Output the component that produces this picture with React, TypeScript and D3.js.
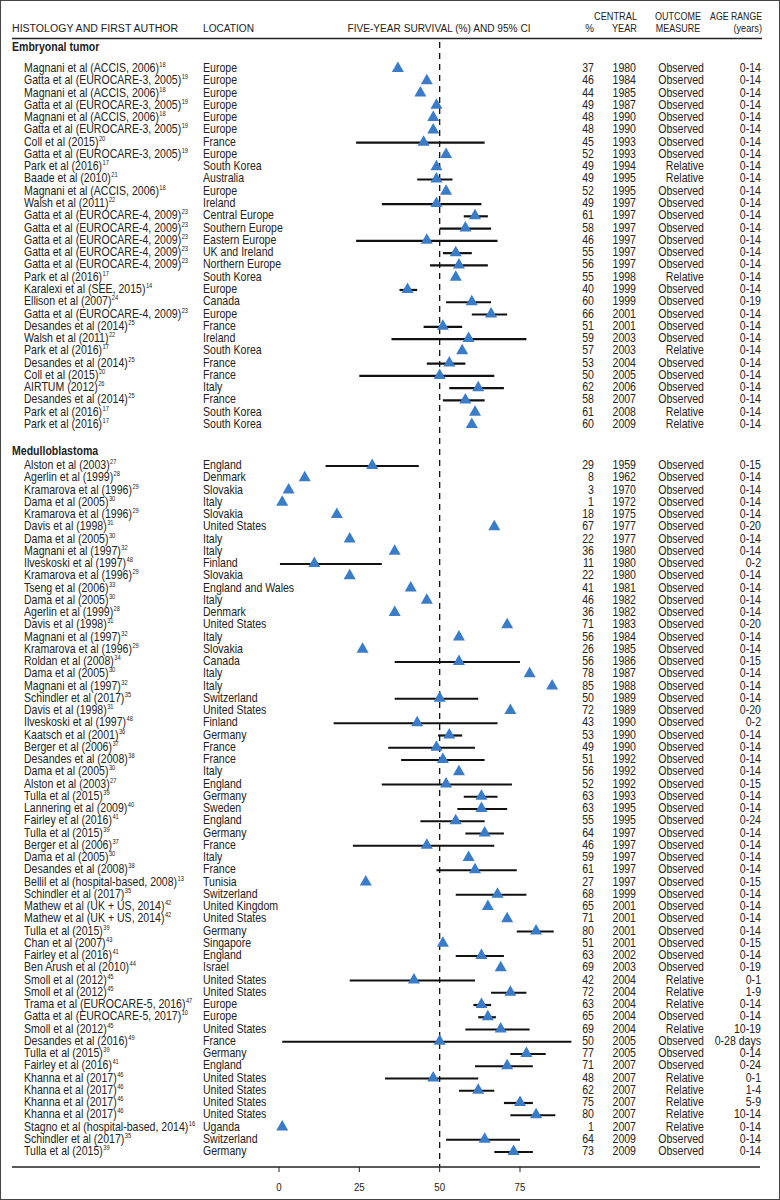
import React from "react";
import * as d3 from "d3";

const axisTicks = [0, 25, 50, 75];

const embAuthors = [
  "Magnani et al (ACCIS, 2006)", "Gatta et al (EUROCARE-3, 2005)", "Magnani et al (ACCIS, 2006)", "Gatta et al (EUROCARE-3, 2005)",
  "Magnani et al (ACCIS, 2006)", "Gatta et al (EUROCARE-3, 2005)", "Coll et al (2015)", "Gatta et al (EUROCARE-3, 2005)",
  "Park et al (2016)", "Baade et al (2010)", "Magnani et al (ACCIS, 2006)", "Walsh et al (2011)",
  "Gatta et al (EUROCARE-4, 2009)", "Gatta et al (EUROCARE-4, 2009)", "Gatta et al (EUROCARE-4, 2009)", "Gatta et al (EUROCARE-4, 2009)",
  "Gatta et al (EUROCARE-4, 2009)", "Park et al (2016)", "Karalexi et al (SEE, 2015)", "Ellison et al (2007)",
  "Gatta et al (EUROCARE-4, 2009)", "Desandes et al (2014)", "Walsh et al (2011)", "Park et al (2016)",
  "Desandes et al (2014)", "Coll et al (2015)", "AIRTUM (2012)", "Desandes et al (2014)", "Park et al (2016)", "Park et al (2016)",
];
const embRefs = [18, 19, 18, 19, 18, 19, 20, 19, 17, 21, 18, 22, 23, 23, 23, 23, 23, 17, 14, 24, 23, 25, 22, 17, 25, 20, 26, 25, 17, 17];
const embLocations = [
  "Europe", "Europe", "Europe", "Europe", "Europe", "Europe", "France", "Europe", "South Korea", "Australia",
  "Europe", "Ireland", "Central Europe", "Southern Europe", "Eastern Europe", "UK and Ireland", "Northern Europe", "South Korea", "Europe", "Canada",
  "Europe", "France", "Ireland", "South Korea", "France", "France", "Italy", "France", "South Korea", "South Korea",
];
const embSurvival = [37, 46, 44, 49, 48, 48, 45, 52, 49, 49, 52, 49, 61, 58, 46, 55, 56, 55, 40, 60, 66, 51, 59, 57, 53, 50, 62, 58, 61, 60];
const embLower = [null, null, null, null, null, null, 24, null, null, 43, null, 32, 57.5, 50, 24, 51, 47, null, 37.5, 52, 60, 45, 35, null, 46, 25, 53, 51, null, null];
const embUpper = [null, null, null, null, null, null, 64, null, null, 54, null, 63, 65, 66, 68, 60, 65, null, 43, 66, 71, 57, 77, null, 58, 67, 70, 64, null, null];
const embYears = [1980, 1984, 1985, 1987, 1990, 1990, 1993, 1993, 1994, 1995, 1995, 1997, 1997, 1997, 1997, 1997, 1997, 1998, 1999, 1999, 2001, 2001, 2003, 2003, 2004, 2005, 2006, 2007, 2008, 2009];
const embMeasures = [
  "Observed", "Observed", "Observed", "Observed", "Observed", "Observed", "Observed", "Observed", "Relative", "Relative",
  "Observed", "Observed", "Observed", "Observed", "Observed", "Observed", "Observed", "Relative", "Observed", "Observed",
  "Observed", "Observed", "Observed", "Relative", "Observed", "Observed", "Observed", "Observed", "Relative", "Relative",
];
const embAges = [
  "0-14", "0-14", "0-14", "0-14", "0-14", "0-14", "0-14", "0-14", "0-14", "0-14",
  "0-14", "0-14", "0-14", "0-14", "0-14", "0-14", "0-14", "0-14", "0-14", "0-19",
  "0-14", "0-14", "0-14", "0-14", "0-14", "0-14", "0-14", "0-14", "0-14", "0-14",
];

const medAuthors = [
  "Alston et al (2003)", "Agerlin et al (1999)", "Kramarova et al (1996)", "Dama et al (2005)", "Kramarova et al (1996)",
  "Davis et al (1998)", "Dama et al (2005)", "Magnani et al (1997)", "Ilveskoski et al (1997)", "Kramarova et al (1996)",
  "Tseng et al (2006)", "Dama et al (2005)", "Agerlin et al (1999)", "Davis et al (1998)", "Magnani et al (1997)",
  "Kramarova et al (1996)", "Roldan et al (2008)", "Dama et al (2005)", "Magnani et al (1997)", "Schindler et al (2017)",
  "Davis et al (1998)", "Ilveskoski et al (1997)", "Kaatsch et al (2001)", "Berger et al (2006)", "Desandes et al (2008)",
  "Dama et al (2005)", "Alston et al (2003)", "Tulla et al (2015)", "Lannering et al (2009)", "Fairley et al (2016)",
  "Tulla et al (2015)", "Berger et al (2006)", "Dama et al (2005)", "Desandes et al (2008)", "Bellil et al (hospital-based, 2008)",
  "Schindler et al (2017)", "Mathew et al (UK + US, 2014)", "Mathew et al (UK + US, 2014)", "Tulla et al (2015)", "Chan et al (2007)",
  "Fairley et al (2016)", "Ben Arush et al (2010)", "Smoll et al (2012)", "Smoll et al (2012)", "Trama et al (EUROCARE-5, 2016)",
  "Gatta et al (EUROCARE-5, 2017)", "Smoll et al (2012)", "Desandes et al (2016)", "Tulla et al (2015)", "Fairley et al (2016)",
  "Khanna et al (2017)", "Khanna et al (2017)", "Khanna et al (2017)", "Khanna et al (2017)", "Stagno et al (hospital-based, 2014)",
  "Schindler et al (2017)", "Tulla et al (2015)",
];
const medRefs = [27, 28, 29, 30, 29, 31, 30, 32, 48, 29, 33, 30, 28, 31, 32, 29, 34, 30, 32, 35, 31, 48, 36, 37, 38, 30, 27, 39, 40, 41,
  39, 37, 30, 38, 13, 35, 42, 42, 39, 43, 41, 44, 45, 45, 47, 10, 45, 49, 39, 41, 46, 46, 46, 46, 16, 35, 39];
const medLocations = [
  "England", "Denmark", "Slovakia", "Italy", "Slovakia", "United States", "Italy", "Italy", "Finland", "Slovakia",
  "England and Wales", "Italy", "Denmark", "United States", "Italy", "Slovakia", "Canada", "Italy", "Italy", "Switzerland",
  "United States", "Finland", "Germany", "France", "France", "Italy", "England", "Germany", "Sweden", "England",
  "Germany", "France", "Italy", "France", "Tunisia", "Switzerland", "United Kingdom", "United States", "Germany", "Singapore",
  "England", "Israel", "United States", "United States", "Europe", "Europe", "United States", "France", "Germany", "England",
  "United States", "United States", "United States", "United States", "Uganda", "Switzerland", "Germany",
];
const medSurvival = [29, 8, 3, 1, 18, 67, 22, 36, 11, 22, 41, 46, 36, 71, 56, 26, 56, 78, 85, 50, 72, 43, 53, 49, 51, 56, 52, 63, 63, 55,
  64, 46, 59, 61, 27, 68, 65, 71, 80, 51, 63, 69, 42, 72, 63, 65, 69, 50, 77, 71, 48, 62, 75, 80, 1, 64, 73];
const medLower = [14.5, null, null, null, null, null, null, null, 0.3, null, null, null, null, null, null, null, 36, null, null, 36,
  null, 17, 49.5, 34, 38, null, 32, 57.5, 55.5, 44, 58, 23, null, 49, null, 55, null, null, 74, null,
  55, null, 22, 66, 60.5, 62, 58, 1, 72, 61, 33, 56, 70, 72, null, 52, 67];
const medUpper = [43.5, null, null, null, null, null, null, null, 32, null, null, null, null, null, null, null, 75, null, null, 62,
  null, 68, 57, 61, 64, null, 72.5, 68, 71, 64, 70, 67, null, 74, null, 77, null, null, 85.5, null,
  70, null, 61, 77, 66, 67.5, 78, 91, 83, 79, 62, 67, 79, 86, null, 75, 79];
const medYears = [1959, 1962, 1970, 1972, 1975, 1977, 1977, 1980, 1980, 1980, 1981, 1982, 1982, 1983, 1984, 1985, 1986, 1987, 1988, 1989,
  1989, 1990, 1990, 1990, 1992, 1992, 1992, 1993, 1995, 1995, 1997, 1997, 1997, 1997, 1997, 1999, 2001, 2001, 2001, 2001,
  2002, 2003, 2004, 2004, 2004, 2004, 2004, 2005, 2005, 2007, 2007, 2007, 2007, 2007, 2007, 2009, 2009];
const medMeasures = medAuthors.map((_, i) =>
  [42, 43, 44, 46, 50, 51, 52, 53, 54].includes(i) ? "Relative" : "Observed");
const medAges = [
  "0-15", "0-14", "0-14", "0-14", "0-14", "0-20", "0-14", "0-14", "0-2", "0-14",
  "0-14", "0-14", "0-14", "0-20", "0-14", "0-14", "0-15", "0-14", "0-14", "0-14",
  "0-20", "0-2", "0-14", "0-14", "0-14", "0-14", "0-15", "0-14", "0-14", "0-24",
  "0-14", "0-14", "0-14", "0-14", "0-15", "0-14", "0-14", "0-14", "0-14", "0-15",
  "0-14", "0-19", "0-1", "1-9", "0-14", "0-14", "10-19", "0-28 days", "0-14", "0-24",
  "0-1", "1-4", "5-9", "10-14", "0-14", "0-14", "0-14",
];

const groupTitles = ["Embryonal tumor", "Medulloblastoma"];

const FONT = "'Liberation Sans', Arial, sans-serif";
const BLUE = "#3A7CC8";

type Row = {
  author: string; ref: number; loc: string; s: number; lo: number | null; hi: number | null;
  year: number; measure: string; age: string; y: number;
};

function buildRows(
  authors: string[], refs: number[], locs: string[], s: number[], lo: (number | null)[], hi: (number | null)[],
  years: number[], measures: string[], ages: string[], y0: number, y1: number
): Row[] {
  const yScale = d3.scalePoint<number>().domain(d3.range(authors.length)).range([y0, y1]);
  return authors.map((a, i) => ({
    author: a, ref: refs[i], loc: locs[i], s: s[i], lo: lo[i], hi: hi[i],
    year: years[i], measure: measures[i], age: ages[i], y: yScale(i) as number,
  }));
}

function T(props: { x: number; y: number; anchor?: string; size?: number; sx?: number; bold?: boolean; children: React.ReactNode }) {
  const { x, y, anchor = "start", size = 12, sx = 0.88, bold = false, children } = props;
  return (
    <text transform={`translate(${x},${y}) scale(${sx},1)`} textAnchor={anchor} fontSize={size}
      fontWeight={bold ? "bold" : "normal"} fill="#222">
      {children}
    </text>
  );
}

export default function App() {
  const W = 780, H = 1200;
  const x = d3.scaleLinear().domain([0, 75]).range([279, 520]);
  const embRows = buildRows(embAuthors, embRefs, embLocations, embSurvival, embLower, embUpper, embYears, embMeasures, embAges, 68, 424);
  const medRows = buildRows(medAuthors, medRefs, medLocations, medSurvival, medLower, medUpper, medYears, medMeasures, medAges, 465, 1151);
  const rows = [...embRows, ...medRows];
  const axisY = 1167;
  const tri = (cx: number, cy: number) => `M${cx - 6},${cy + 4}L${cx + 6},${cy + 4}L${cx},${cy - 6.5}Z`;
  const hs = 11.5;

  return (
    <svg width={W} height={H} style={{ position: "absolute", left: 0, top: 0, background: "#fff" }} fontFamily={FONT}>
      <rect x={0.5} y={0.5} width={W - 1} height={H - 1} fill="#fff" stroke="#444" strokeWidth={1} />
      {/* header */}
      <T x={12} y={32} size={hs} sx={0.92}>HISTOLOGY AND FIRST AUTHOR</T>
      <T x={203} y={32} size={hs} sx={0.88}>LOCATION</T>
      <T x={439} y={32} size={hs} sx={0.88} anchor="middle">FIVE-YEAR  SURVIVAL (%) AND 95% CI</T>
      <T x={594} y={32} size={hs} sx={0.85} anchor="end">%</T>
      <T x={637} y={20} size={hs} sx={0.8} anchor="end">CENTRAL</T>
      <T x={637} y={32} size={hs} sx={0.8} anchor="end">YEAR</T>
      <T x={678} y={20} size={hs} sx={0.78} anchor="middle">OUTCOME</T>
      <T x={678} y={32} size={hs} sx={0.78} anchor="middle">MEASURE</T>
      <T x={762} y={20} size={hs} sx={0.76} anchor="end">AGE RANGE</T>
      <T x={762} y={32} size={hs} sx={0.8} anchor="end">(years)</T>
      <line x1={12} x2={762} y1={38.5} y2={38.5} stroke="#222" strokeWidth={1.5} />
      {/* group titles */}
      <T x={12} y={51} bold>{groupTitles[0]}</T>
      <T x={12} y={455} bold>{groupTitles[1]}</T>
      {/* reference line */}
      <line x1={x(50)} x2={x(50)} y1={42} y2={axisY} stroke="#111" strokeWidth={1.3} strokeDasharray="6,5" />
      {/* rows */}
      {rows.map((r, i) => (
        <g key={i}>
          <T x={24} y={r.y + 4}>
            {r.author}
            <tspan fontSize={6.5} dy={-5} dx={0.5}>{r.ref}</tspan>
          </T>
          <T x={203} y={r.y + 4}>{r.loc}</T>
          <T x={594} y={r.y + 4} anchor="end">{r.s}</T>
          <T x={636} y={r.y + 4} anchor="end">{r.year}</T>
          <T x={704} y={r.y + 4} anchor="end">{r.measure}</T>
          <T x={761} y={r.y + 4} anchor="end">{r.age}</T>
          {r.lo !== null && r.hi !== null && (
            <line x1={x(r.lo)} x2={x(r.hi)} y1={r.y + 1} y2={r.y + 1} stroke="#111" strokeWidth={2.2} />
          )}
          <path d={tri(x(r.s), r.y)} fill={BLUE} />
        </g>
      ))}
      {/* axis */}
      <line x1={12} x2={760} y1={axisY} y2={axisY} stroke="#222" strokeWidth={1.5} />
      {axisTicks.map((t) => (
        <g key={t}>
          <line x1={x(t)} x2={x(t)} y1={axisY} y2={axisY + 5} stroke="#222" strokeWidth={1} />
          <T x={x(t)} y={axisY + 24} anchor="middle" size={11}>{t}</T>
        </g>
      ))}
    </svg>
  );
}
